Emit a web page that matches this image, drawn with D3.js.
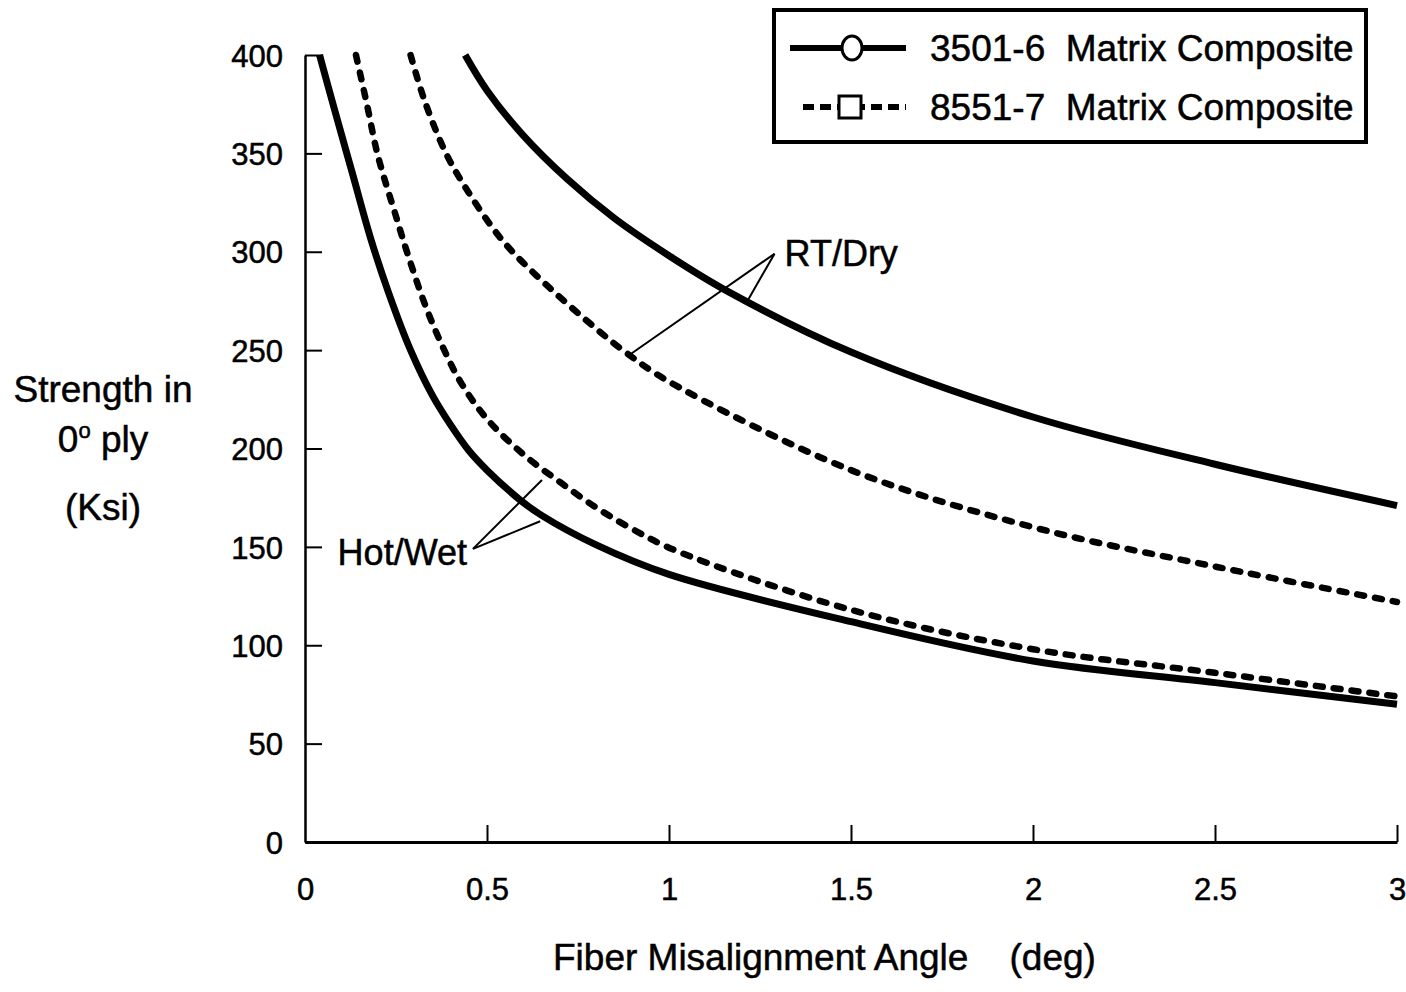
<!DOCTYPE html>
<html>
<head>
<meta charset="utf-8">
<script src="https://cdn.jsdelivr.net/npm/d3@7"></script>
<style>
  body { margin: 0; background: #fff; }
  text { font-family: "Liberation Sans", Arial, Helvetica, sans-serif; fill: #000; stroke: #000; stroke-width: 0.5px; }
</style>
</head>
<body>
<div id="chart"></div>
<script>
// Values (angle in deg, strength in ksi)
const rtDry3501Angle = [0.44, 0.5, 0.6, 0.72, 0.85, 1.0, 1.16, 1.5, 2.0, 2.5, 3.0]
const rtDry3501Ksi = [400, 382, 359, 337, 317, 298, 280, 249, 216, 192, 171]

const rtDry8551Angle = [0.29, 0.33, 0.39, 0.45, 0.52, 0.57, 0.67, 0.78, 0.88, 1.0, 1.5, 2.0, 2.5, 3.0]
const rtDry8551Ksi = [400, 376, 349, 330, 311, 300, 282, 264, 249, 234, 189, 160, 140, 122]

const hotWet8551Angle = [0.14, 0.17, 0.2, 0.25, 0.28, 0.33, 0.38, 0.43, 0.5, 0.6, 0.7, 0.8, 0.9, 1.02, 1.5, 2.0, 2.5, 3.0]
const hotWet8551Ksi = [400, 375, 349, 318, 300, 273, 251, 233, 215, 197, 183, 170, 159, 148, 118, 98, 86, 74]

const hotWet3501Angle = [0.04, 0.08, 0.13, 0.18, 0.23, 0.29, 0.35, 0.4, 0.45, 0.5, 0.59, 0.65, 0.8, 1.0, 1.5, 2.0, 2.5, 3.0]
const hotWet3501Ksi = [400, 373, 340, 307, 279, 250, 227, 212, 199, 189, 174, 166, 151, 136, 112, 92, 81, 70]

const xTicks = [0, 0.5, 1, 1.5, 2, 2.5, 3]
const xTickLabels = ['0', '0.5', '1', '1.5', '2', '2.5', '3']
const yTicks = [0, 50, 100, 150, 200, 250, 300, 350, 400]

const legendLabels = ['3501-6  Matrix Composite', '8551-7  Matrix Composite']

const width = 1406
const height = 992

const svg = d3.select('#chart').append('svg')
  .attr('width', width)
  .attr('height', height)

const xScale = d3.scaleLinear().domain([0, 3]).range([305, 1397])
const yScale = d3.scaleLinear().domain([0, 400]).range([842, 55])

const zip = (xs, ys) => xs.map((x, i) => ({ x: x, y: ys[i] }))

const series = [
  { pts: zip(rtDry3501Angle, rtDry3501Ksi), dashed: false },
  { pts: zip(rtDry8551Angle, rtDry8551Ksi), dashed: true },
  { pts: zip(hotWet8551Angle, hotWet8551Ksi), dashed: true },
  { pts: zip(hotWet3501Angle, hotWet3501Ksi), dashed: false }
]

const line = d3.line()
  .curve(d3.curveCatmullRom.alpha(0.5))
  .x(d => xScale(d.x))
  .y(d => yScale(d.y))

// axes: left and bottom only, ticks pointing inward
const gAxes = svg.append('g')

const yAxis = d3.axisLeft(yScale).tickValues(yTicks).tickSize(-17).tickSizeOuter(0).tickPadding(22)
const gy = gAxes.append('g').attr('transform', `translate(${xScale(0)},0)`).call(yAxis)
gy.select('.domain').attr('stroke-width', 2.5)
gy.selectAll('.tick line').attr('stroke-width', 2)
gy.selectAll('.tick text')
  .style('font-size', '31px')
  .attr('dy', '0.36em')

const xAxis = d3.axisBottom(xScale).tickValues(xTicks).tickFormat((d, i) => xTickLabels[i])
  .tickSize(-17).tickSizeOuter(0).tickPadding(36)
const gx = gAxes.append('g').attr('transform', `translate(0,${yScale(0)})`).call(xAxis)
gx.select('.domain').attr('stroke-width', 3)
gx.selectAll('.tick line').attr('stroke-width', 2)
gx.selectAll('.tick text')
  .style('font-size', '31px')
  .attr('dy', '0.71em')
gx.selectAll('.tick').filter(d => d === 0).select('line').remove()
gAxes.selectAll('.tick text').attr('fill', '#000').attr('font-family', null)
gAxes.attr('font-family', null)

// curves
svg.append('g').selectAll('path')
  .data(series)
  .enter()
  .append('path')
  .attr('d', d => line(d.pts))
  .attr('fill', 'none')
  .attr('stroke', '#000')
  .attr('stroke-width', d => d.dashed ? 6.5 : 7)
  .attr('stroke-linecap', d => d.dashed ? 'round' : 'butt')
  .attr('stroke-dasharray', d => d.dashed ? '7,11' : null)

// annotations with leader lines (positions in data units)
const notes = [
  { text: 'RT/Dry', at: [1.29, 299], anchor: 'start', dx: 10, dy: 12,
    leaders: [[0.887, 247], [1.217, 275.5]] },
  { text: 'Hot/Wet', at: [0.4615, 149], anchor: 'end', dx: -6, dy: 16,
    leaders: [[0.651, 184], [0.646, 163]] }
]
const gNotes = svg.append('g')
notes.forEach(n => {
  n.leaders.forEach(p => {
    gNotes.append('line')
      .attr('x1', xScale(n.at[0])).attr('y1', yScale(n.at[1]))
      .attr('x2', xScale(p[0])).attr('y2', yScale(p[1]))
      .attr('stroke', '#000').attr('stroke-width', 2)
  })
  gNotes.append('text')
    .attr('x', xScale(n.at[0]) + n.dx)
    .attr('y', yScale(n.at[1]) + n.dy)
    .attr('text-anchor', n.anchor)
    .style('font-size', '36px')
    .text(n.text)
})

// axis titles
const yTitle = svg.append('text')
  .attr('text-anchor', 'middle')
  .style('font-size', '37px')
yTitle.append('tspan').attr('x', 103).attr('y', 402).text('Strength in')
const t2 = yTitle.append('tspan').attr('x', 103).attr('y', 452)
t2.append('tspan').text('0')
t2.append('tspan').attr('dy', -14).style('font-size', '22px').text('o')
t2.append('tspan').attr('dy', 14).text(' ply')
yTitle.append('tspan').attr('x', 103).attr('y', 520).text('(Ksi)')

svg.append('text')
  .attr('x', 553)
  .attr('y', 970)
  .style('font-size', '37px')
  .style('white-space', 'pre')
  .text('Fiber Misalignment Angle    (deg)')

// legend
const gLeg = svg.append('g')
gLeg.append('rect')
  .attr('x', 774).attr('y', 10).attr('width', 592).attr('height', 132)
  .attr('fill', '#fff').attr('stroke', '#000').attr('stroke-width', 4)

const legRows = [48, 107]
gLeg.append('line')
  .attr('x1', 790).attr('x2', 906).attr('y1', legRows[0]).attr('y2', legRows[0])
  .attr('stroke', '#000').attr('stroke-width', 6)
gLeg.append('ellipse')
  .attr('cx', 852).attr('cy', legRows[0]).attr('rx', 10).attr('ry', 12)
  .attr('fill', '#fff').attr('stroke', '#000').attr('stroke-width', 3)

gLeg.append('line')
  .attr('x1', 803).attr('x2', 906).attr('y1', legRows[1]).attr('y2', legRows[1])
  .attr('stroke', '#000').attr('stroke-width', 6)
  .attr('stroke-dasharray', '11,6')
gLeg.append('rect')
  .attr('x', 839).attr('y', legRows[1] - 11).attr('width', 22).attr('height', 22)
  .attr('fill', '#fff').attr('stroke', '#000').attr('stroke-width', 3)

gLeg.selectAll('text.leg')
  .data(legendLabels)
  .enter()
  .append('text')
  .attr('class', 'leg')
  .attr('x', 930)
  .attr('y', (d, i) => legRows[i] + 13)
  .style('font-size', '37px')
  .style('white-space', 'pre')
  .text(d => d)
</script>
</body>
</html>
